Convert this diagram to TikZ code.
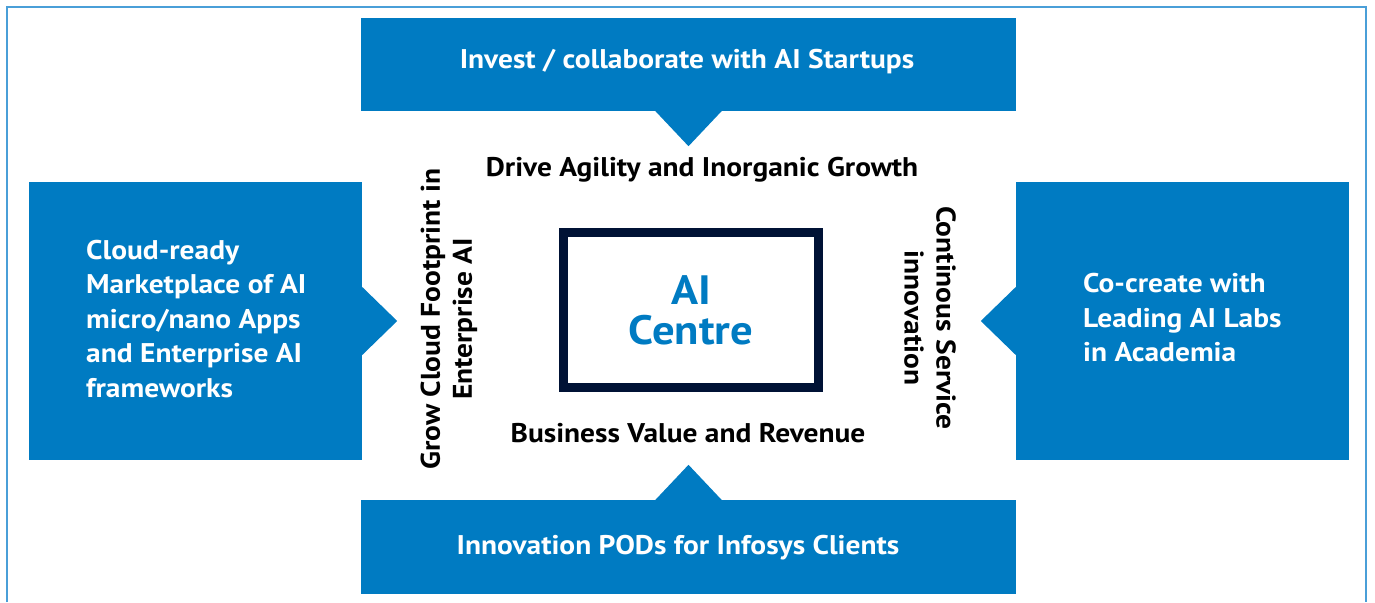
\documentclass[tikz,border=0pt]{standalone}
\usepackage{fontspec}
\setmainfont{PT Sans}[FakeStretch=1.09]
\usepackage{xcolor}
\usetikzlibrary{positioning,calc}
\definecolor{boxblue}{HTML}{007BC2}
\definecolor{frameblue}{HTML}{4A9FD8}
\definecolor{navy}{HTML}{001235}
\tikzset{
  bluebox/.style={fill=boxblue, text=white, inner sep=0pt, font=\bfseries\fontsize{27}{34.5}\selectfont},
  midlabel/.style={align=center, inner sep=0pt, font=\bfseries\fontsize{27}{32}\selectfont},
}

\begin{document}
\begin{tikzpicture}[x=1pt, y=-1pt]
    \useasboundingbox (0,0) rectangle (1375,602);
    \draw[frameblue, line width=2pt] (7,602) -- (7,7) -- (1366,7) -- (1366,602);

    \node[bluebox, minimum width=655pt, minimum height=93pt] (invest) at (688.5,64.5) {};
    \node[bluebox, minimum width=655pt, minimum height=94pt] (pods) at (688.5,547) {};
    \node[bluebox, minimum width=333pt, minimum height=278pt] (cloud) at (195.5,321) {};
    \node[bluebox, minimum width=333pt, minimum height=278pt] (labs) at (1182.5,321) {};
    \node[bluebox, fill=none] (investtext) at (687,62) {Invest / collaborate with AI Startups};
    \node[bluebox, fill=none] (podstext) at (678,548) {Innovation PODs for Infosys Clients};
    \node[bluebox, fill=none, align=left, anchor=west] (cloudtext) at (86,319) {Cloud-ready\\Marketplace of AI\\micro/nano Apps\\and Enterprise AI\\frameworks};
    \node[bluebox, fill=none, align=left, anchor=west] (labstext) at (1083,318) {Co-create with\\Leading AI Labs\\in Academia};

    \fill[boxblue] ($(invest.south)+(-34,-1)$) -- ($(invest.south)+(0,35)$) -- ($(invest.south)+(34,-1)$) -- cycle;
    \fill[boxblue] ($(pods.north)+(-34,1)$) -- ($(pods.north)+(0,-35)$) -- ($(pods.north)+(34,1)$) -- cycle;
    \fill[boxblue] ($(cloud.east)+(-1,-35)$) -- ($(cloud.east)+(35,0)$) -- ($(cloud.east)+(-1,35)$) -- cycle;
    \fill[boxblue] ($(labs.west)+(1,-35)$) -- ($(labs.west)+(-35,0)$) -- ($(labs.west)+(1,35)$) -- cycle;

    \node[draw=navy, line width=9pt, minimum width=255pt, minimum height=155pt, align=center,
          text=boxblue, font=\bfseries\fontsize{41}{40}\selectfont] (centre) at (691,310) {AI\\Centre};

    \node[midlabel] (drive) at (702,170) {Drive Agility and Inorganic Growth};
    \node[midlabel] (business) at (688,433) {Business Value and Revenue};
    \node[midlabel, rotate=90] (grow) at (449,319) {Grow Cloud Footprint in\\Enterprise AI};
    \node[midlabel, rotate=-90] (service) at (930,318) {Continous Service\\innovation};
\end{tikzpicture}
\end{document}
